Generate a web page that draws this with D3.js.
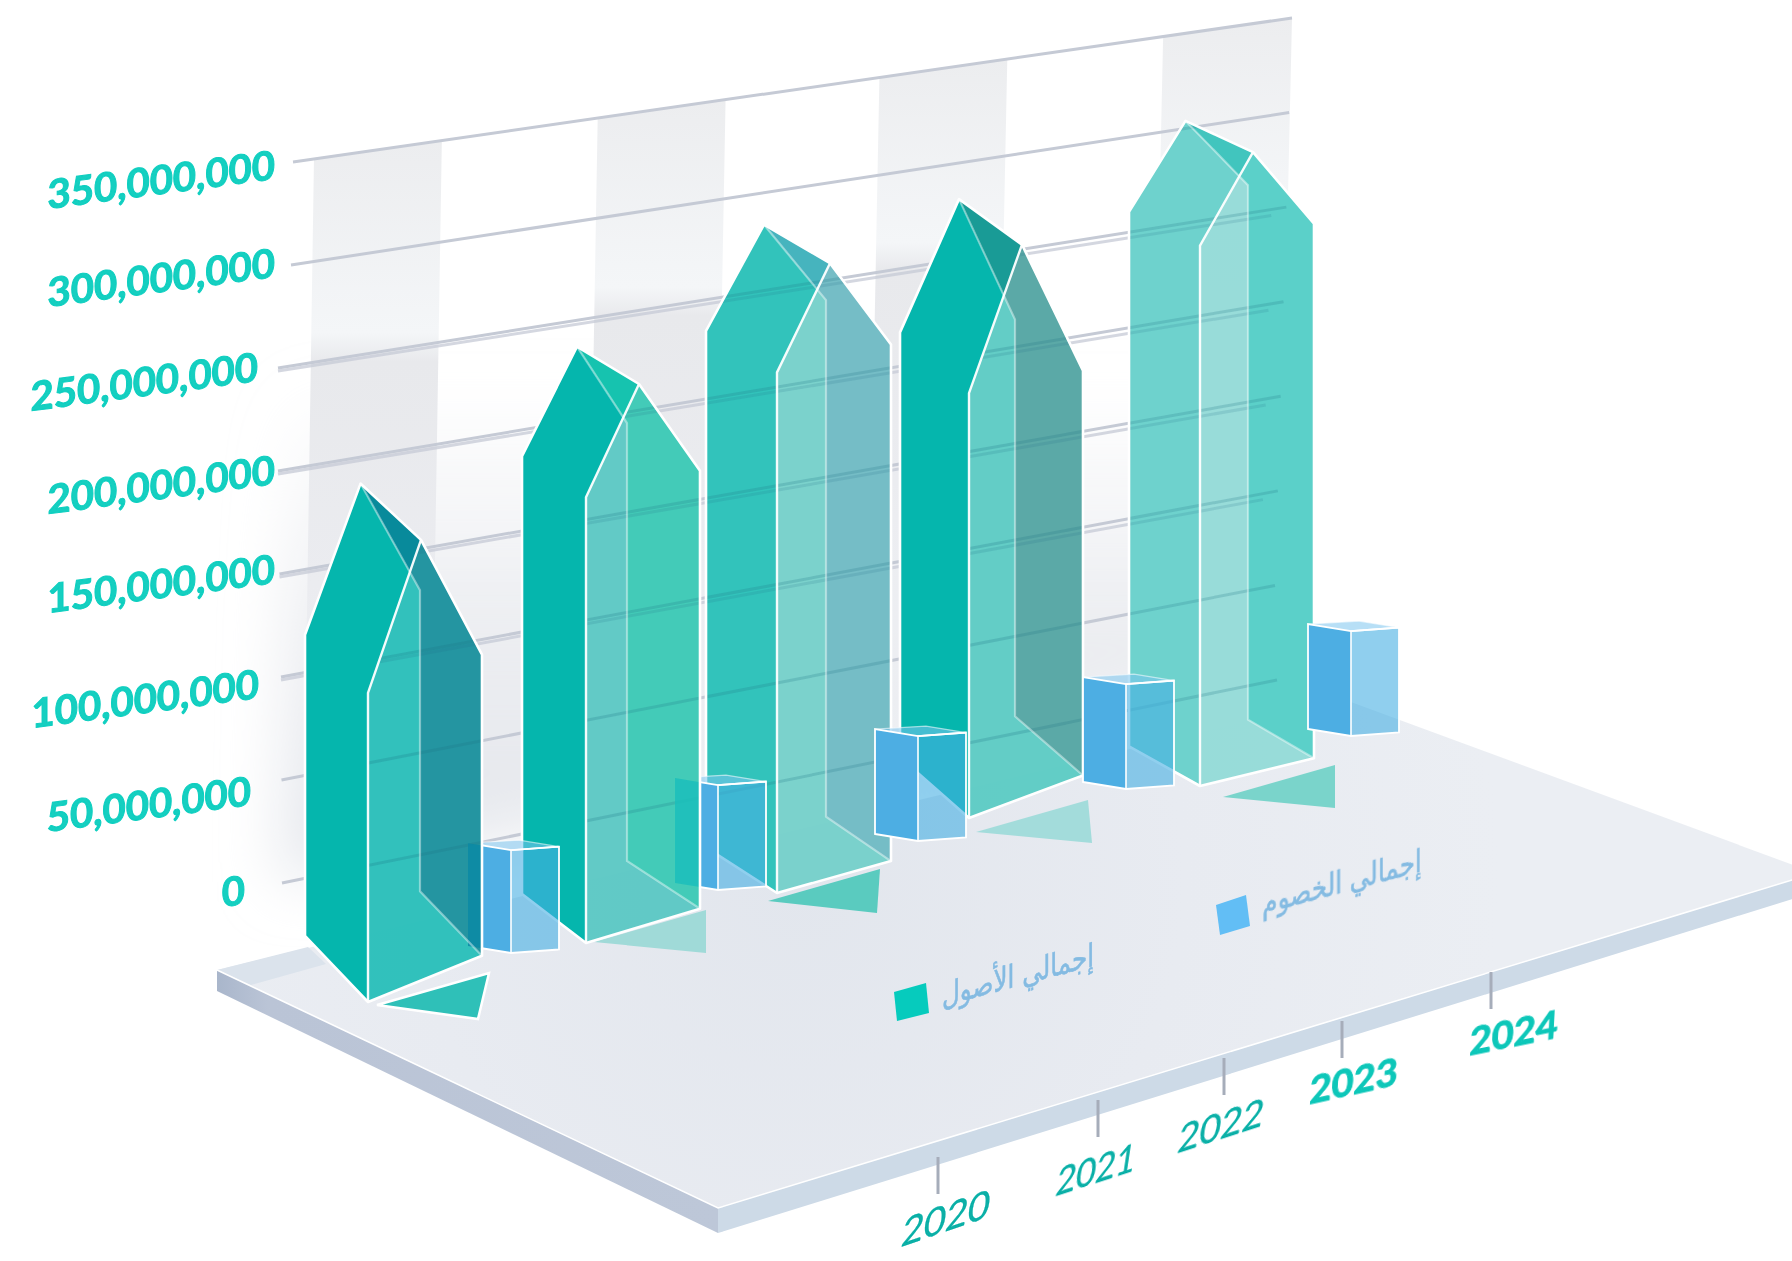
<!DOCTYPE html>
<html><head><meta charset="utf-8">
<script src="https://cdn.jsdelivr.net/npm/d3@7/dist/d3.min.js"></script>
<style>html,body{margin:0;padding:0;background:#fff;overflow:hidden}svg{display:block}</style>
</head><body>
<svg id="c" width="1792" height="1261" viewBox="0 0 1792 1261"></svg>
<script>
// ---- data ----
const years = ["2020","2021","2022","2023","2024"];
const totalAssets = [210e6, 260e6, 295e6, 265e6, 298e6];
const totalLiabilities = [50e6, 51e6, 51e6, 51e6, 51e6];
const yTicks = [0, 50e6, 100e6, 150e6, 200e6, 250e6, 300e6, 350e6];
const doubledTicks = [100e6, 150e6, 200e6, 250e6];
const seriesNames = ["إجمالي الأصول", "إجمالي الخصوم"];

// ---- scales ----
const heightPx = d3.scaleLinear().domain([0, 350e6]).range([0, 720]);
const wallLeftX = d3.scaleLinear().domain([0, 100e6, 200e6, 250e6, 300e6, 350e6]).range([282, 281, 278, 278, 291, 293]);
const wallRightX = d3.scaleLinear().domain([0, 50e6, 350e6]).range([1277, 1275, 1292]);
const wallLeftY = d3.scaleLinear().domain([0, 350e6]).range([883, 162]);
const wallRightY = d3.scaleLinear().domain([0, 350e6]).range([680, 18]);
const wall = (u, v) => [wallLeftX(v) + u * (wallRightX(v) - wallLeftX(v)), wallLeftY(v) + u * (wallRightY(v) - wallLeftY(v))];

const ord = r => d3.scaleOrdinal().domain(years).range(r);
const frontX = ord([368, 586, 777, 969, 1200]);
const frontY = ord([1002, 943, 893, 818, 786]);
const tilt = ord([1.35, 1.0, 0.93, 1.24, 0.81]);
const leftDX = ord([-63, -64, -71, -69, -71]);
const backDX = ord([52, 41, 49, 46, 48]);
const frontLift = ord([8, 8, 4, 0, 6]);
const rightDrop = ord([0, 0, 0, 20, 0]);
const backDrop = ord([0, 0, 0, 28, 0]);
const ridgeDX = ord([0, 4.5, 0, 3.5, -1]);
const ridgeDY = ord([-1, 1, -3.5, 4.5, -2]);
const boxX = ord([511, 718, 918, 1126, 1351]);
const boxY = ord([953, 890, 841, 789, 736]);
const shadowDX = ord([1, 0, -17, -1, 15]);
const shadowDY = ord([4, 0, 9, 15, 12]);
const shadowTipDX = ord([-11, 0, -3, 4, 0]);
const shadowTipDY = ord([3, 0, 1, 0, 0]);
const faceLeft = ord(["#05b6ad", "#05b6ad", "#32c3bb", "#05b6ad", "#6ed2cd"]);
const faceFront = ord(["#2abeb9", "#5cc8c4", "#76d0ca", "#5dcbc4", "#94dbd7"]);
const faceBack = ord(["#2494a0", "#42cbb8", "#76bcc6", "#5ba8a6", "#5ad0c8"]);
const faceRoof = ord(["#088a9b", "#16c3af", "#46b4be", "#199b96", "#41c5be"]);
const ghostFill = ord(["#0b89a5", "#1bbebb", "none", "none", "none"]);
const shadowFill = ord(["#2fc0b8", "#a0dad8", "#5acbbf", "#a3dcdb", "#7ad4cb"]);
const shadowStroke = ord(["#ffffff", "none", "none", "none", "none"]);
const gridOnTop = ord([false, false, true, false, true]);
const tickX = ord([938, 1098, 1224, 1342, 1491]);
const tickTop = ord([1157, 1100, 1058, 1021, 972]);
const labelX = ord([944, 1094, 1219, 1353, 1513]);
const labelY = ord([1232, 1184, 1140, 1094, 1047]);
const labelSkewY = ord([-19, -18, -18, -12.5, -11.5]);
const labelSkewX = ord([-9, -9, -9, -3, -3]);
const labelScaleX = ord([1, .9, .97, 1, 1]);
const labelWeight = ord([400, 400, 400, 700, 700]);
const labelStroke = ord([.3, .3, .3, .9, .9]);
const labelFill = ord(["#07afa6", "#07afa6", "#07afa6", "#0cc7b9", "#0cc7b9"]);
const yLabelX = d3.scaleOrdinal().domain(yTicks).range([245, 251, 259, 275, 275, 258, 275, 275]);
const yLabelY = d3.scaleOrdinal().domain(yTicks).range([904, 805, 698, 583, 484, 381, 277, 179]);

const svg = d3.select("#c");
const defs = svg.append("defs");
const poly = d3.line();
const closed = p => poly(p) + "Z";
const add = (a, b, dx = 0, dy = 0) => [a[0] + b[0] + dx, a[1] + b[1] + dy];
const up = (p, h) => [p[0], p[1] - h];
const mid = (a, b) => [(a[0] + b[0]) / 2, (a[1] + b[1]) / 2];
const cross = (a, b, c, d) => {
  const r = [b[0] - a[0], b[1] - a[1]], s = [d[0] - c[0], d[1] - c[1]];
  const t = ((c[0] - a[0]) * s[1] - (c[1] - a[1]) * s[0]) / (r[0] * s[1] - r[1] * s[0]);
  return [a[0] + t * r[0], a[1] + t * r[1]];
};
const grad = (id, x1, y1, x2, y2, stops) => {
  const g = defs.append("linearGradient").attr("id", id).attr("x1", x1).attr("y1", y1).attr("x2", x2).attr("y2", y2);
  stops.forEach(s => g.append("stop").attr("offset", s[0]).attr("stop-color", s[1]).attr("stop-opacity", s[2]));
};
grad("bandG", 0, 0, 0, 1, [[0, "#ecedef", 1], [.26, "#f4f6f8", 1], [.3, "#e8e9ec", 1], [.6, "#ebecf0", 1], [1, "#eef0f4", .5]]);
grad("backG", 0, 0, 0, 1, [[0, "#e6e8ed", 0], [.42, "#e6e8ed", 0], [.7, "#e4e6eb", .7], [1, "#e1e4ea", .9]]);
grad("sideL", 0, 0, 1, 0, [[0, "#a9b6cb", 1], [.1, "#bac4d6", 1], [1, "#bdc7d8", 1]]);
const floorG = defs.append("radialGradient").attr("id", "floorG").attr("gradientUnits", "userSpaceOnUse")
  .attr("cx", 800).attr("cy", 880).attr("r", 700);
floorG.append("stop").attr("offset", 0).attr("stop-color", "#e2e6ed");
floorG.append("stop").attr("offset", .55).attr("stop-color", "#e8ebf1");
floorG.append("stop").attr("offset", 1).attr("stop-color", "#ebeef3");
defs.append("filter").attr("id", "soft").attr("x", "-30%").attr("y", "-30%").attr("width", "160%").attr("height", "160%")
  .append("feGaussianBlur").attr("stdDeviation", 30);
defs.append("filter").attr("id", "txt").append("feGaussianBlur").attr("stdDeviation", .45);
defs.append("clipPath").attr("id", "wallClip").append("rect").attr("x", 0).attr("y", 0).attr("width", 1285).attr("height", 1261);

// ---- back wall ----
const wallG = svg.append("g");
const wallLow = [wall(0, 0), wall(0, 350e6), wall(1, 350e6), wall(1, 0)];
wallG.append("g").attr("clip-path", "url(#wallClip)").append("path").attr("d", closed(wallLow))
  .attr("fill", "url(#backG)").attr("filter", "url(#soft)");
const bandU = [[.021, .149], [.305, .433], [.587, .715], [.871, 1]];
wallG.selectAll("path.band").data(bandU).join("path").attr("class", "band")
  .attr("d", b => closed([wall(b[0], 0), wall(b[0], 350e6), wall(b[1], 350e6), wall(b[1], 0)]))
  .attr("fill", "url(#bandG)");

const gridPath = v => poly([wall(0, v), wall(1, v)]);
const gridPath2 = v => poly([add(wall(0, v), [0, 3]), add(wall(.985, v), [0, 6])]);
function drawGrid(g, stroke, op) {
  g.selectAll("path.g1").data(yTicks).join("path").attr("class", "g1").attr("d", gridPath)
    .attr("fill", "none").attr("stroke", stroke).attr("stroke-width", 3).attr("opacity", op);
  g.selectAll("path.g2").data(doubledTicks).join("path").attr("class", "g2").attr("d", gridPath2)
    .attr("fill", "none").attr("stroke", stroke).attr("stroke-width", 3).attr("opacity", op * .75);
}
drawGrid(wallG.append("g"), "#c5cad5", 1);

// ---- y labels ----
svg.append("g").attr("filter", "url(#txt)").selectAll("text").data(yTicks).join("text")
  .attr("transform", d => `translate(${yLabelX(d)},${yLabelY(d)}) skewY(-7.5)`)
  .attr("text-anchor", "end").attr("font-family", "Lato").attr("font-weight", 700).attr("font-size", 40)
  .attr("fill", "#12cfc0").attr("stroke", "#12cfc0").attr("stroke-width", 1).text(d => d3.format(",")(d));

// ---- floor plate ----
const fl = { L: [217, 970], F: [718, 1208], R: [1815, 873], K: [1340, 698] };
const plateDepth = d3.scaleLinear().domain([217, 718, 1815]).range([21, 25, 19]);
const down = p => [p[0], p[1] + plateDepth(p[0])];
const plate = svg.append("g");
plate.append("path").attr("d", closed([fl.L, fl.F, down(fl.F), down(fl.L)])).attr("fill", "url(#sideL)");
plate.append("path").attr("d", closed([fl.F, fl.R, down(fl.R), down(fl.F)])).attr("fill", "#cddae7");
plate.append("path").attr("d", closed([fl.L, fl.F, fl.R, fl.K])).attr("fill", "url(#floorG)");
plate.append("path").attr("d", closed([fl.L, [308, 947], [326, 964], [251, 985]])).attr("fill", "#dbe3ec");
plate.append("path").attr("d", poly([fl.L, fl.F, fl.R])).attr("fill", "none").attr("stroke", "#fff").attr("stroke-width", 1.5);

// ---- year axis on the plate edge ----
const axisG = svg.append("g");
axisG.selectAll("line").data(years).join("line")
  .attr("x1", tickX).attr("x2", tickX).attr("y1", tickTop).attr("y2", d => tickTop(d) + 37)
  .attr("stroke", "#a6adba").attr("stroke-width", 3);
axisG.append("g").attr("filter", "url(#txt)").selectAll("text").data(years).join("text")
  .attr("transform", d => `translate(${labelX(d)},${labelY(d)}) skewY(${labelSkewY(d)}) skewX(${labelSkewX(d)}) scale(${labelScaleX(d)},1)`)
  .attr("text-anchor", "middle").attr("font-family", "Lato").attr("font-size", 38)
  .attr("font-weight", labelWeight).attr("fill", labelFill).attr("stroke", labelFill).attr("stroke-width", labelStroke).text(d => d);

// ---- shadows on the floor ----
svg.append("g").selectAll("path").data(years).join("path")
  .attr("d", d => {
    const f = [frontX(d) + shadowDX(d), frontY(d) + shadowDY(d)];
    return closed([add(f, [8, -1]), add(f, [120, -33]), add(f, [120 + shadowTipDX(d), 10 + shadowTipDY(d)])]);
  })
  .attr("fill", shadowFill).attr("stroke", shadowStroke).attr("stroke-width", 2.5);

// ---- legend ----
const legendKeys = [
  { q: [[894, 992], [926, 983], [929, 1013], [897, 1021]], c: "#06cbbd", tx: 1018, ty: 986, i: 0 },
  { q: [[1216, 905], [1246, 895], [1250, 926], [1220, 935]], c: "#62bef5", tx: 1342, ty: 893, i: 1 }
];
const leg = svg.append("g");
leg.selectAll("path").data(legendKeys).join("path").attr("d", k => closed(k.q)).attr("fill", k => k.c);
leg.append("g").attr("filter", "url(#txt)").selectAll("text").data(legendKeys).join("text")
  .attr("transform", k => `translate(${k.tx},${k.ty}) skewY(-15) scale(.93,1.2)`)
  .attr("text-anchor", "middle").attr("font-family", "DejaVu Sans").attr("font-size", 26.5)
  .attr("fill", "#84bbe2").attr("stroke", "#84bbe2").attr("stroke-width", .5).text(k => seriesNames[k.i]);

// ---- bars ----
function prismPts(y, value) {
  const t = tilt(y), H = heightPx(value);
  const F = [frontX(y), frontY(y)];
  const L = add(F, [leftDX(y), -49 * t]);
  const R = add(F, [114, -34.3 * t]);
  const B = add(F, [backDX(y), -82 * t]);
  const S = H - 97 * t;
  const A = add(up(mid(L, B), H), [-2 + ridgeDX(y), 3 + ridgeDY(y)]);
  const A2 = add(up(mid(F, R), H), [-4, -7]);
  const Lt = up(L, S), Ft = up(F, S + frontLift(y)), Rt = up(R, S - rightDrop(y)), Bt = up(B, S - backDrop(y));
  return { F, L, R, B, A, A2, Lt, Ft, Rt, Bt, X: cross(A, Bt, Ft, A2) };
}
function boxPts(y, value) {
  const H = heightPx(value);
  const F = [boxX(y), boxY(y)];
  const L = add(F, [-43, -7]), R = add(F, [48, -3.5]), B = add(F, [8, -10]);
  return { F, L, R, B, Ft: up(F, H), Lt: up(L, H), Rt: up(R, H), Bt: up(B, H) };
}
function drawPrism(y, value, i) {
  const p = prismPts(y, value);
  const g = svg.append("g");
  const id = "pc" + i;
  defs.append("clipPath").attr("id", id).append("path").attr("d", closed([p.L, p.F, p.R, p.Rt, p.A2, p.A, p.Lt]));
  const lines = () => drawGrid(g.append("g").attr("clip-path", `url(#${id})`), "#1f6e84", .2);
  g.append("path").attr("d", closed([p.F, p.R, p.Rt, p.A2, p.Ft])).attr("fill", faceFront(y)).attr("fill-opacity", .96);
  g.append("path").attr("d", closed([p.B, p.R, p.Rt, p.A2, p.A, p.Bt])).attr("fill", faceBack(y)).attr("fill-opacity", .97);
  if (!gridOnTop(y)) lines();
  if (ghostFill(y) !== "none") {
    const b = boxPts(y, totalLiabilities[i]);
    g.append("path").attr("clip-path", `url(#${id})`)
      .attr("d", closed([b.L, b.F, b.Ft, b.Lt])).attr("fill", ghostFill(y)).attr("fill-opacity", .85);
  }
  g.append("path").attr("d", closed([p.A, p.A2, p.X])).attr("fill", faceRoof(y));
  g.append("path").attr("d", closed([p.L, p.F, p.Ft, p.X, p.A, p.Lt])).attr("fill", faceLeft(y));
  if (gridOnTop(y)) lines();
  g.append("path").attr("d", poly([p.A, p.Bt, p.B, p.R])).attr("fill", "none").attr("stroke", "#fff").attr("stroke-opacity", .42).attr("stroke-width", 2.2);
  g.append("path").attr("d", poly([p.F, p.Ft, p.A2])).attr("fill", "none").attr("stroke", "#fff").attr("stroke-opacity", .95).attr("stroke-width", 2.4);
  g.append("path").attr("d", closed([p.L, p.F, p.R, p.Rt, p.A2, p.A, p.Lt])).attr("fill", "none").attr("stroke", "#fff").attr("stroke-width", 2.6).attr("stroke-linejoin", "round");
}
function drawBox(y, value) {
  const { F, L, R, Ft, Lt, Rt, Bt } = boxPts(y, value);
  const g = svg.append("g");
  g.append("path").attr("d", closed([L, F, Ft, Lt])).attr("fill", "#4daee3");
  g.append("path").attr("d", closed([F, R, Rt, Ft])).attr("fill", "#46afe2").attr("fill-opacity", .6);
  g.append("path").attr("d", closed([Lt, Ft, Rt, Bt])).attr("fill", "#7cc4ee").attr("fill-opacity", .55);
  g.append("path").attr("d", poly([Lt, Bt, Rt])).attr("fill", "none").attr("stroke", "#fff").attr("stroke-opacity", .55).attr("stroke-width", 1.2);
  g.append("path").attr("d", closed([L, F, R, Rt, Ft, Lt])).attr("fill", "none").attr("stroke", "#fff").attr("stroke-width", 1.8);
  g.append("path").attr("d", poly([F, Ft, Rt])).attr("fill", "none").attr("stroke", "#fff").attr("stroke-width", 1.6);
}
const idx = y => years.indexOf(y);
const P = y => drawPrism(y, totalAssets[idx(y)], idx(y));
const Bx = y => drawBox(y, totalLiabilities[idx(y)]);
P("2024"); Bx("2024"); P("2023"); Bx("2023"); P("2022"); Bx("2022"); Bx("2021"); P("2021"); Bx("2020"); P("2020");
</script>
</body></html>
